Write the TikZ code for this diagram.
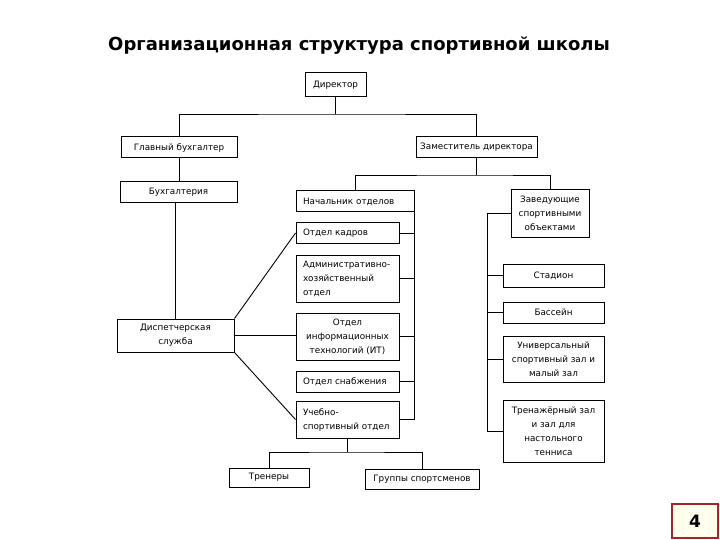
\documentclass[tikz,border=0pt]{standalone}
\usepackage{fontspec}
\setmainfont{DejaVu Sans}
\newfontfamily\boxfont{DejaVu Sans}
\definecolor{pgborder}{HTML}{A0262A}
\definecolor{pgfill}{HTML}{FFFDEB}
\begin{document}
\begin{tikzpicture}[x=1pt,y=-1pt,
  orgbox/.style={draw=black, line width=1pt, inner sep=0pt, font=\boxfont\fontsize{8.8}{14}\selectfont, align=center},
  lbox/.style={orgbox, align=left},
  conn/.style={draw=black, line width=0.9pt}]
\useasboundingbox (0,0) rectangle (720,540);
\fill[white] (0,0) rectangle (720,540);
\node[font=\bfseries\fontsize{18}{22}\selectfont] (title) at (359,46) {Организационная структура спортивной школы};
% boxes
\node[orgbox, minimum width=61, minimum height=24] (dir) at (335.5,85) {Директор};
\node[orgbox, minimum width=116, minimum height=21] (gb) at (179,147.5) {Главный бухгалтер};
\node[orgbox, minimum width=121, minimum height=21] (zam) at (476.5,147.5) {Заместитель директора};
\node[orgbox, minimum width=117, minimum height=21] (buh) at (178.5,192.5) {Бухгалтерия};
\node[lbox, minimum width=118, minimum height=21, text width=104] (nach) at (355,201.5) {Начальник отделов};
\node[orgbox, minimum width=78, minimum height=47] (zav) at (550,213.5) {Заведующие\\спортивными\\объектами};
\node[lbox, minimum width=103, minimum height=20, text width=89] (kadr) at (347.5,233) {Отдел кадров};
\node[lbox, minimum width=103, minimum height=47, text width=89] (adm) at (347.5,278.5) {Административно-\\хозяйственный\\отдел};
\node[orgbox, minimum width=103, minimum height=47] (it) at (347.5,336.5) {Отдел\\информационных\\технологий (ИТ)};
\node[lbox, minimum width=103, minimum height=21, text width=89] (snab) at (347.5,381.5) {Отдел снабжения};
\node[lbox, minimum width=103, minimum height=37, text width=89] (ucheb) at (347.5,419.5) {Учебно-\\спортивный отдел};
\node[orgbox, minimum width=117, minimum height=33] (disp) at (175.5,335.5) {Диспетчерская\\служба};
\node[orgbox, minimum width=80, minimum height=19] (tren) at (269,477.5) {Тренеры};
\node[orgbox, minimum width=114, minimum height=20] (grup) at (422,479) {Группы спортсменов};
\node[orgbox, minimum width=101, minimum height=23] (stad) at (553.5,275.5) {Стадион};
\node[orgbox, minimum width=101, minimum height=21] (bass) at (553.5,312.5) {Бассейн};
\node[orgbox, minimum width=101, minimum height=46] (univ) at (553.5,359) {Универсальный\\спортивный зал и\\малый зал};
\node[orgbox, minimum width=101, minimum height=62] (trenz) at (553.5,431) {Тренажёрный зал\\и зал для\\настольного\\тенниса};
% connectors
\coordinate (b1) at (335.5,114);
\draw[conn] (dir.south) -- (b1);
\draw[conn] (gb.north) |- (b1) -| (zam.north);
\draw[conn] (gb.south) -- (gb.south |- buh.north);
\draw[conn] (disp.north |- buh.south) -- (disp.north);
\coordinate (b2) at (476.5,175);
\draw[conn] (zam.south) -- (b2);
\draw[conn] (nach.north) |- (b2) -| (zav.north);
% left trunk
\draw[conn] (nach.south east) -- (nach.south east |- ucheb.east);
\foreach \n in {kadr,adm,it,snab,ucheb}{
  \draw[conn] (\n.east) -- (\n.east -| nach.east);
}
% right trunk
\coordinate (rt) at (487,0);
\draw[conn] (zav.west) -- (zav.west -| rt) -- (trenz.west -| rt) -- (trenz.west);
\foreach \n in {stad,bass,univ}{
  \draw[conn] (\n.west) -- (\n.west -| rt);
}
% dispatcher links
\draw[conn] (disp.north east) -- (kadr.west);
\draw[conn] (disp.east) -- (disp.east -| it.west);
\draw[conn] (disp.south east) -- (ucheb.west);
% training dept
\coordinate (b3) at (347.5,452);
\draw[conn] (ucheb.south) -- (b3);
\draw[conn] (tren.north) |- (b3) -| (grup.north);
% page number
\node[draw=pgborder, fill=pgfill, line width=1.6pt, minimum width=46, minimum height=34, inner sep=0pt, font=\bfseries\fontsize{17}{20}\selectfont] (pg) at (695,521) {4};
\end{tikzpicture}
\end{document}
